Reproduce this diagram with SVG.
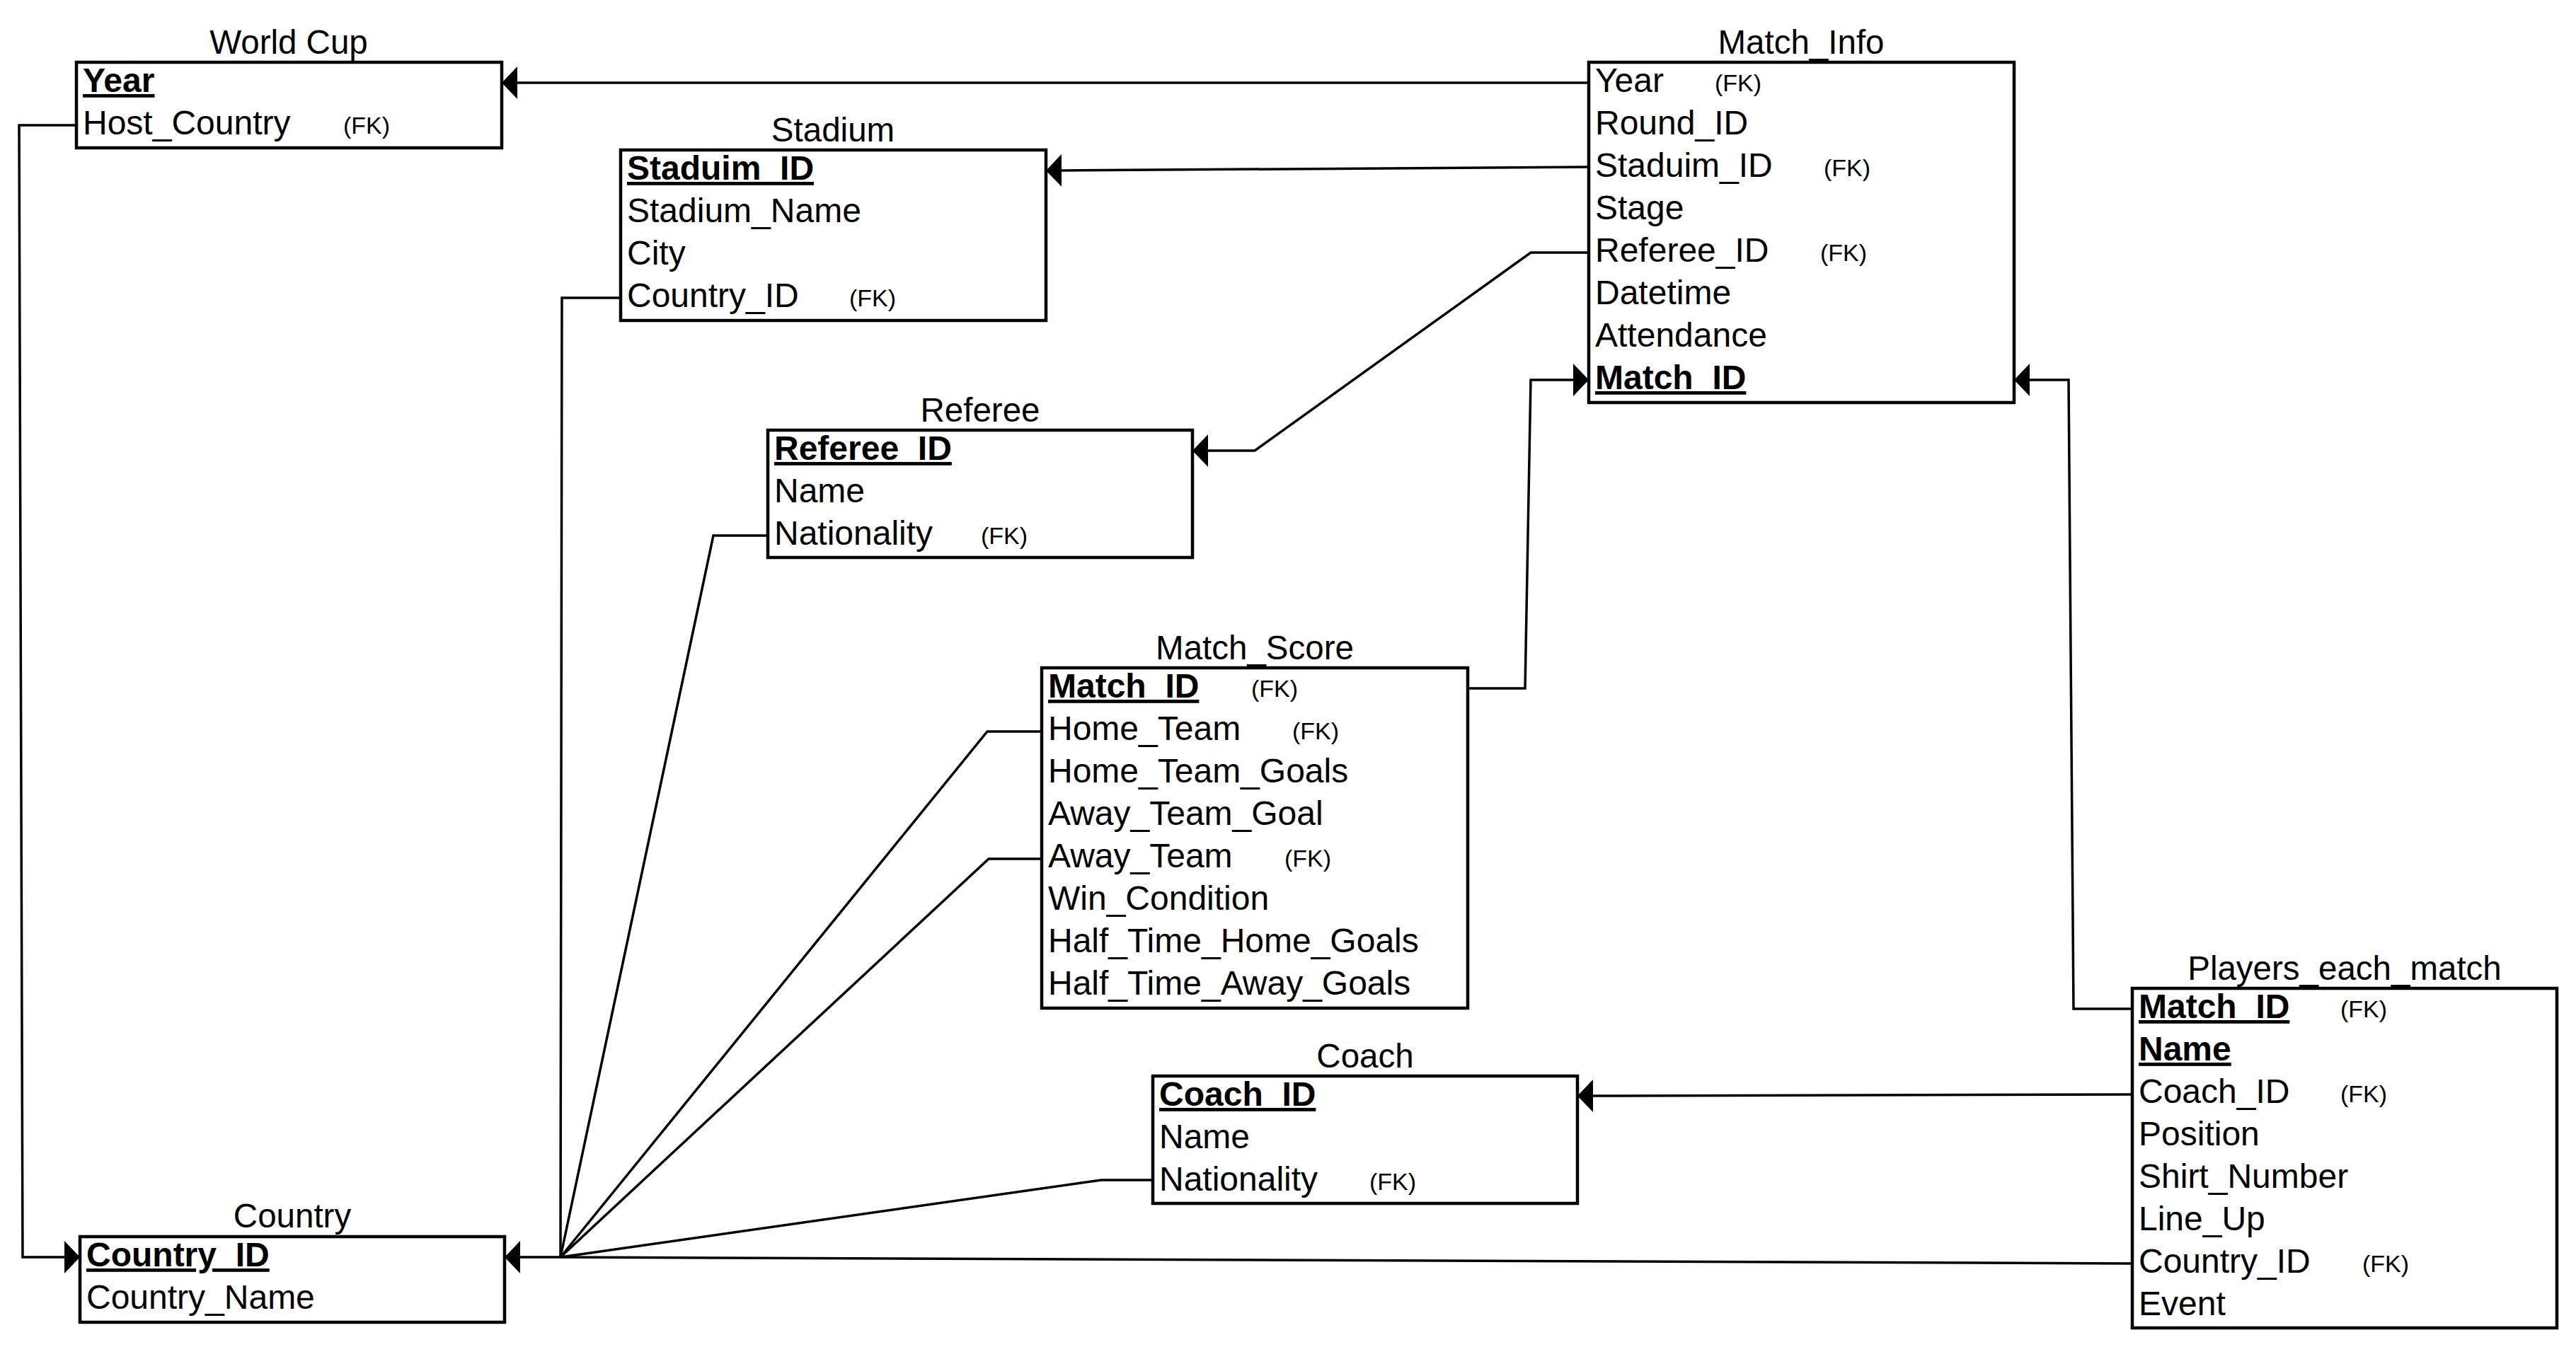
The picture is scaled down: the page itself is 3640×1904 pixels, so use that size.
<svg xmlns="http://www.w3.org/2000/svg" width="3640" height="1904" viewBox="0 0 3640 1904">
<style>
.box{fill:#fff;stroke:#000;stroke-width:4.5}
.t{font-family:'Liberation Sans',Arial,sans-serif;font-size:48px;fill:#000}
.ttl{font-family:'Liberation Sans',Arial,sans-serif;font-size:47.5px;fill:#000;text-anchor:middle}
.pk{font-weight:bold;text-decoration:underline}
.fk{font-family:'Liberation Sans',Arial,sans-serif;font-size:34px;fill:#000}
.conn{fill:none;stroke:#000;stroke-width:3.5;stroke-linejoin:miter}
</style>
<defs>
<marker id="arr" viewBox="0 -23 22 46" markerWidth="22" markerHeight="46" refX="0" refY="0" orient="auto" markerUnits="userSpaceOnUse">
<path d="M0,-23 L22,0 L0,23 Z" fill="#000"/>
</marker>
</defs>
<rect width="3640" height="1904" fill="#fff"/>

<g id="connectors">
<path class="conn" d="M2245,117 L731,117" marker-end="url(#arr)"/>
<path class="conn" d="M2245,236 L1500,241" marker-end="url(#arr)"/>
<path class="conn" d="M2245,357 L2163,357 L1773,637 L1707,637" marker-end="url(#arr)"/>
<path class="conn" d="M2074,973 L2155,973 L2163,537 L2223,537" marker-end="url(#arr)"/>
<path class="conn" d="M3013,1426 L2930,1426 L2923,537 L2868,537" marker-end="url(#arr)"/>
<path class="conn" d="M3013,1547 L2251,1549" marker-end="url(#arr)"/>
<path class="conn" d="M108,177 L27,177 L32,1777 L91,1777" marker-end="url(#arr)"/>
<path class="conn" d="M877,421 L794,421 L792,1777 L735,1777" marker-end="url(#arr)"/>
<path class="conn" d="M1085,757 L1008,757 L792,1777"/>
<path class="conn" d="M1472,1034 L1395,1034 L792,1777"/>
<path class="conn" d="M1472,1214 L1397,1214 L792,1777"/>
<path class="conn" d="M1629,1668 L1556,1668 L792,1777"/>
<path class="conn" d="M3013,1786 L792,1777"/>
</g>

<g id="world_cup">
<text class="ttl" x="408" y="76">World Cup</text>
<rect class="box" x="108" y="88" width="601" height="121"/>
<text class="t pk" x="117" y="130">Year</text>
<text class="t" x="117" y="190">Host_Country</text>
<text class="fk" x="485" y="189">(FK)</text>
</g>

<g id="stadium">
<text class="ttl" x="1177" y="200">Stadium</text>
<rect class="box" x="877" y="212" width="601" height="241"/>
<text class="t pk" x="886" y="254">Staduim_ID</text>
<text class="t" x="886" y="314">Stadium_Name</text>
<text class="t" x="886" y="374">City</text>
<text class="t" x="886" y="434">Country_ID</text>
<text class="fk" x="1200" y="433">(FK)</text>
</g>

<g id="match_info">
<text class="ttl" x="2545" y="76">Match_Info</text>
<rect class="box" x="2245" y="88" width="601" height="481"/>
<text class="t" x="2254" y="130">Year</text>
<text class="fk" x="2423" y="129">(FK)</text>
<text class="t" x="2254" y="190">Round_ID</text>
<text class="t" x="2254" y="250">Staduim_ID</text>
<text class="fk" x="2577" y="249">(FK)</text>
<text class="t" x="2254" y="310">Stage</text>
<text class="t" x="2254" y="370">Referee_ID</text>
<text class="fk" x="2572" y="369">(FK)</text>
<text class="t" x="2254" y="430">Datetime</text>
<text class="t" x="2254" y="490">Attendance</text>
<text class="t pk" x="2254" y="550">Match_ID</text>
</g>

<g id="referee">
<text class="ttl" x="1385" y="596">Referee</text>
<rect class="box" x="1085" y="608" width="600" height="180"/>
<text class="t pk" x="1094" y="650">Referee_ID</text>
<text class="t" x="1094" y="710">Name</text>
<text class="t" x="1094" y="770">Nationality</text>
<text class="fk" x="1386" y="769">(FK)</text>
</g>

<g id="match_score">
<text class="ttl" x="1773" y="932">Match_Score</text>
<rect class="box" x="1472" y="944" width="602" height="481"/>
<text class="t pk" x="1481" y="986">Match_ID</text>
<text class="fk" x="1768" y="985">(FK)</text>
<text class="t" x="1481" y="1046">Home_Team</text>
<text class="fk" x="1826" y="1045">(FK)</text>
<text class="t" x="1481" y="1106">Home_Team_Goals</text>
<text class="t" x="1481" y="1166">Away_Team_Goal</text>
<text class="t" x="1481" y="1226">Away_Team</text>
<text class="fk" x="1815" y="1225">(FK)</text>
<text class="t" x="1481" y="1286">Win_Condition</text>
<text class="t" x="1481" y="1346">Half_Time_Home_Goals</text>
<text class="t" x="1481" y="1406">Half_Time_Away_Goals</text>
</g>

<g id="coach">
<text class="ttl" x="1929" y="1509">Coach</text>
<rect class="box" x="1629" y="1521" width="600" height="180"/>
<text class="t pk" x="1638" y="1563">Coach_ID</text>
<text class="t" x="1638" y="1623">Name</text>
<text class="t" x="1638" y="1683">Nationality</text>
<text class="fk" x="1935" y="1682">(FK)</text>
</g>

<g id="country">
<text class="ttl" x="413" y="1735">Country</text>
<rect class="box" x="113" y="1748" width="600" height="121"/>
<text class="t pk" x="122" y="1790">Country_ID</text>
<text class="t" x="122" y="1850">Country_Name</text>
</g>

<g id="players_each_match">
<text class="ttl" x="3313" y="1385">Players_each_match</text>
<rect class="box" x="3013" y="1397" width="600" height="480"/>
<text class="t pk" x="3022" y="1439">Match_ID</text>
<text class="fk" x="3307" y="1438">(FK)</text>
<text class="t pk" x="3022" y="1499">Name</text>
<text class="t" x="3022" y="1559">Coach_ID</text>
<text class="fk" x="3307" y="1558">(FK)</text>
<text class="t" x="3022" y="1619">Position</text>
<text class="t" x="3022" y="1679">Shirt_Number</text>
<text class="t" x="3022" y="1739">Line_Up</text>
<text class="t" x="3022" y="1799">Country_ID</text>
<text class="fk" x="3338" y="1798">(FK)</text>
<text class="t" x="3022" y="1859">Event</text>
</g>
</svg>
